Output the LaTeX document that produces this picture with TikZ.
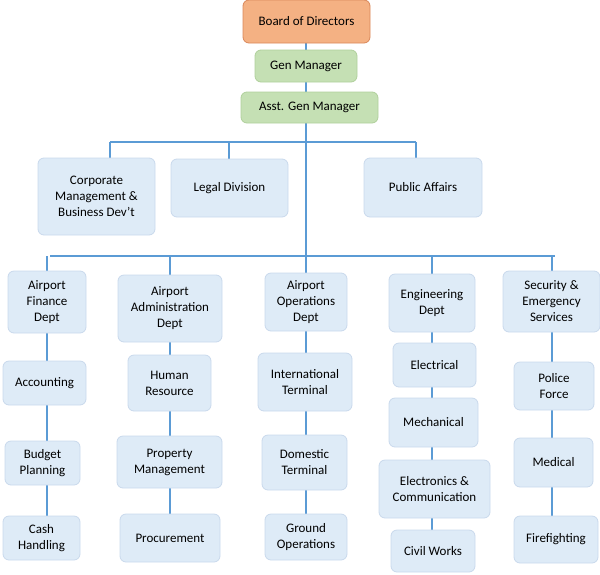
\documentclass[tikz,border=0pt]{standalone}
\usepackage{fontspec}
\setmainfont{Carlito}
\definecolor{ln}{HTML}{5B9BD5}
\definecolor{bf}{HTML}{DEEBF7}
\definecolor{bd}{HTML}{C9D9EC}
\definecolor{of}{HTML}{F4B183}
\definecolor{od}{HTML}{D9875A}
\definecolor{gf}{HTML}{C5E0B4}
\definecolor{gd}{HTML}{B0D09C}
\tikzset{box/.style={draw=bd,fill=bf,rounded corners=6pt,line width=0.8pt,align=center,inner sep=0pt,font=\fontsize{13}{16}\selectfont},
 obox/.style={box,draw=od,fill=of},
 gbox/.style={box,draw=gd,fill=gf},
 conn/.style={draw=ln,line width=1.6pt}}
\newcommand{\bx}[7][box]{\node[#1,minimum width={(#5-#3)*1pt},minimum height={(#6-#4)*1pt}] (#2) at ({(#3+#5)/2},{(#4+#6)/2}) {#7};}
\begin{document}
\begin{tikzpicture}[x=1pt,y=-1pt]
\useasboundingbox (0,0) rectangle (600,574);
% connectors first
\coordinate (t1) at (306,142);
\coordinate (t2) at (306,256);
\draw[conn] (110,142) -- (416,142);
\draw[conn] (50,256) -- (555,256);
\draw[conn] (306,20) -- (t2);
\draw[conn] (110,142) -- (110,170);
\draw[conn] (229,142) -- (229,170);
\draw[conn] (416,142) -- (416,170);
\foreach \x/\b in {47/540, 170/540, 306/540, 432/550, 552/540}{\draw[conn] (\x,256) -- (\x,\b);}
\bx[obox]{bod}{243}{0}{370}{43}{Board of Directors}
\bx[gbox]{gm}{255}{50}{357}{82}{Gen Manager}
\bx[gbox]{agm}{241}{92}{378}{123}{Asst. Gen Manager}
\bx{corp}{38}{158}{155}{235}{Corporate\\Management \&\\Business Dev’t}
\bx{legal}{171}{159}{288}{217}{Legal Division}
\bx{pub}{364}{158}{482}{217}{Public Affairs}
\bx{fin}{8}{271}{86}{333}{Airport\\Finance\\Dept}
\bx{acc}{3}{361}{86}{405}{Accounting}
\bx{bud}{5}{441}{80}{485}{Budget\\Planning}
\bx{cash}{3}{516}{80}{560}{Cash\\Handling}
\bx{adm}{118}{275}{222}{342}{Airport\\Administration\\Dept}
\bx{hr}{128}{355}{211}{411}{Human\\Resource}
\bx{prop}{117}{436}{222}{488}{Property\\Management}
\bx{proc}{120}{514}{220}{562}{Procurement}
\bx{ops}{265}{273}{347}{331}{Airport\\Operations\\Dept}
\bx{intl}{258}{353}{352}{411}{International\\Terminal}
\bx{dom}{262}{435}{347}{490}{Domestic\\Terminal}
\bx{grd}{265}{514}{347}{560}{Ground\\Operations}
\bx{eng}{389}{274}{475}{332}{Engineering\\Dept}
\bx{elec}{393}{343}{476}{387}{Electrical}
\bx{mech}{389}{398}{478}{447}{Mechanical}
\bx{ecom}{379}{460}{490}{518}{Electronics \&\\Communication}
\bx{civ}{391}{530}{475}{572}{Civil Works}
\bx{sec}{503}{271}{600}{332}{Security \&\\Emergency\\Services}
\bx{pol}{514}{362}{594}{410}{Police\\Force}
\bx{med}{514}{438}{593}{487}{Medical}
\bx{fire}{514}{516}{598}{563}{Firefighting}
\end{tikzpicture}
\end{document}
